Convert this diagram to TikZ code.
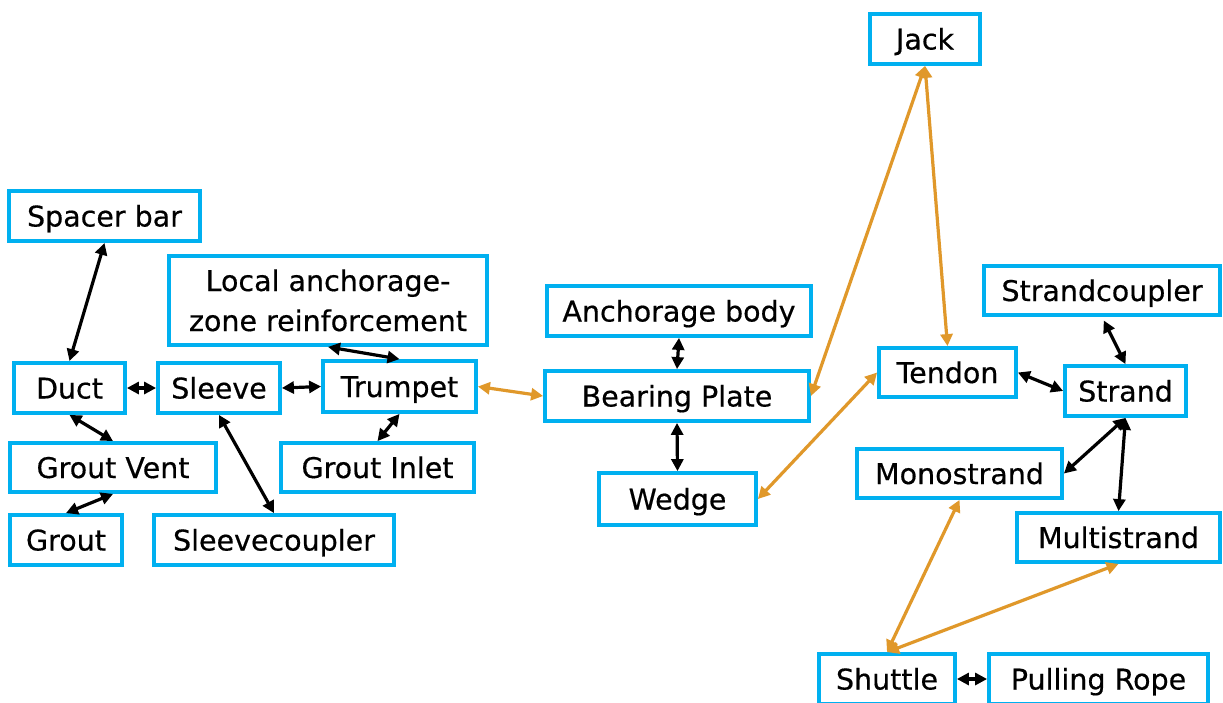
\documentclass[tikz,border=0pt]{standalone}
\usepackage{fontspec}
\setmainfont{DejaVu Sans}[FakeBold=0.5]
\usetikzlibrary{arrows.meta}
\definecolor{boxblue}{HTML}{00B0F0}
\definecolor{linkorange}{HTML}{E0982A}
\begin{document}
\begin{tikzpicture}[x=1pt,y=-1pt,
  part/.style={draw=boxblue, line width=3.8pt, fill=white, inner sep=0pt,
    text height=26pt, text depth=5pt, align=center,
    font=\fontsize{28.5}{40}\selectfont},
  link/.style={line width=3.2pt,
    {Triangle[length=12pt,width=12pt]}-{Triangle[length=12pt,width=12pt]}},
  blink/.style={link, draw=black},
  olink/.style={link, draw=linkorange, fill=linkorange}]
\clip (0,0) rectangle (1223,702);
\fill[white] (0,0) rectangle (1223,702);

% duct and sleeve group
\node[part, minimum width=191pt, minimum height=50pt] (spacer) at (104.5,216) {Spacer bar};
\node[part, minimum width=318pt, minimum height=89pt, text height=66pt] (local) at (328,300.5) {Local anchorage-\\zone reinforcement};
\node[part, minimum width=111pt, minimum height=50pt] (duct) at (69.5,388) {Duct};
\node[part, minimum width=122pt, minimum height=50pt] (sleeve) at (219,388) {Sleeve};
\node[part, minimum width=153pt, minimum height=51pt] (trumpet) at (399.5,386.5) {Trumpet};
\node[part, minimum width=206pt, minimum height=49pt] (vent) at (113,467.5) {Grout Vent};
\node[part, minimum width=193pt, minimum height=49pt] (inlet) at (377.5,467.5) {Grout Inlet};
\node[part, minimum width=112pt, minimum height=50pt] (grout) at (66,540) {Grout};
\node[part, minimum width=240pt, minimum height=50pt] (scoupler) at (274,540) {Sleevecoupler};

% anchorage group
\node[part, minimum width=264pt, minimum height=50pt] (body) at (679,311) {Anchorage body};
\node[part, minimum width=264pt, minimum height=50pt] (plate) at (677,396) {Bearing Plate};
\node[part, minimum width=157pt, minimum height=52pt] (wedge) at (677.5,499) {Wedge};

% tendon group
\node[part, minimum width=110pt, minimum height=50pt] (jack) at (925,39) {Jack};
\node[part, minimum width=236pt, minimum height=49pt] (stcoupler) at (1102,290.5) {Strandcoupler};
\node[part, minimum width=137pt, minimum height=49pt] (tendon) at (947.5,372.5) {Tendon};
\node[part, minimum width=121pt, minimum height=50pt] (strand) at (1125.5,391) {Strand};
\node[part, minimum width=205pt, minimum height=49pt] (mono) at (959.5,473.5) {Monostrand};
\node[part, minimum width=203pt, minimum height=49pt] (multi) at (1118.5,537.5) {Multistrand};
\node[part, minimum width=136pt, minimum height=50pt] (shuttle) at (887,679) {Shuttle};
\node[part, minimum width=219pt, minimum height=50pt] (rope) at (1098.5,679) {Pulling Rope};

% black links
\draw[blink] (spacer.south) -- (duct.north);
\draw[blink] (duct.east) -- (sleeve.west);
\draw[blink] (sleeve.east) -- (trumpet.west);
\draw[blink] (local.south) -- (trumpet.north);
\draw[blink] (duct.south) -- (vent.north);
\draw[blink] (trumpet.south) -- (inlet.north);
\draw[blink] (sleeve.south) -- (scoupler.north);
\draw[blink] (vent.south) -- (grout.north);
\draw[blink] (body.south) -- (plate.north);
\draw[blink] (plate.south) -- (wedge.north);
\draw[blink] (tendon.east) -- (strand.west);
\draw[blink, shorten <=4pt] (stcoupler.south) -- (strand.north);
\draw[blink] (strand.south) -- (mono.east);
\draw[blink] (strand.south) -- (multi.north);
\draw[blink] (shuttle.east) -- (rope.west);

% orange links
\draw[olink] (trumpet.east) -- (plate.west);
\draw[olink] (plate.east) -- (jack.south);
\draw[olink] (jack.south) -- (tendon.north);
\draw[olink] (wedge.east) -- (tendon.west);
\draw[olink] (shuttle.north) -- (mono.south);
\draw[olink] (shuttle.north) -- (multi.south);
\end{tikzpicture}
\end{document}
